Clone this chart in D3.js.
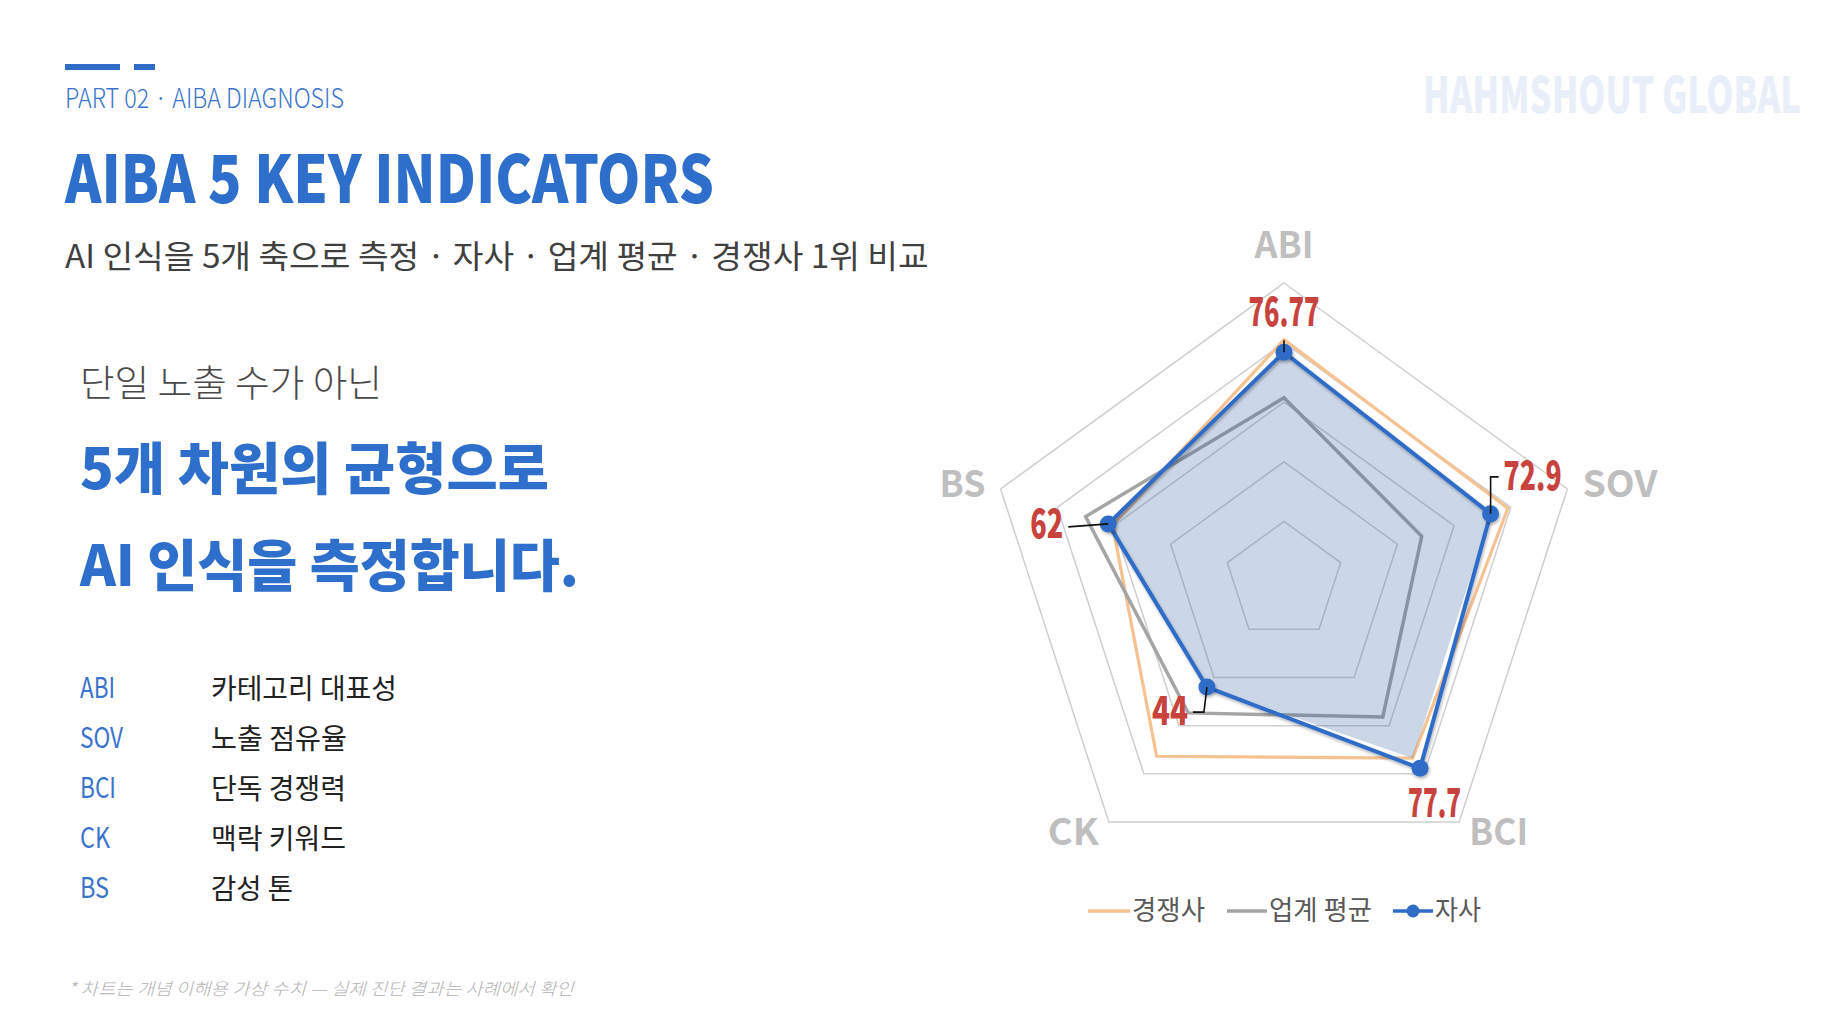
<!DOCTYPE html>
<html><head><meta charset="utf-8">
<script src="https://cdn.jsdelivr.net/npm/d3@7"></script>
<style>
html,body{margin:0;padding:0;background:#fff;}
svg{display:block;}
text{font-family:"Noto Sans CJK KR","Noto Sans",sans-serif;}
</style></head><body>
<svg id="chart" width="1830" height="1030"></svg>
<script>
// ---------- DATA ----------
const categories = ["ABI", "SOV", "BCI", "CK", "BS"];
const competitor = [81, 79, 73.5, 72.7, 60.5];      // 경쟁사
const industryAvg = [61.5, 48.6, 56.4, 54.7, 70];  // 업계 평균
const ours = [76.77, 72.9, 77.7, 44, 62];           // 자사
const oursArea = [76.77, 72.9, 73.5, 44, 62];       // 자사 shaded area
const dataLabels = ["76.77", "72.9", "77.7", "44", "62"];
const gridLevels = [20, 40, 60, 80, 100];
const seriesNames = ["경쟁사", "업계 평균", "자사"];
const indicatorCodes = ["ABI", "SOV", "BCI", "CK", "BS"];
const indicatorNames = ["카테고리 대표성", "노출 점유율", "단독 경쟁력", "맥락 키워드", "감성 톤"];

// ---------- STYLE / LAYOUT ----------
const BLUE = "#2f6cc8", ORANGE = "#f5c292", GRAY = "#a5a5a5", RED = "#c8433d";
const cx = 1284, cy = 581, R = 298;
const svg = d3.select("#chart");

const defs = svg.append("defs");
const f = defs.append("filter").attr("id", "sh").attr("x", "-50%").attr("y", "-50%").attr("width", "200%").attr("height", "200%");
f.append("feDropShadow").attr("dx", 1).attr("dy", 2).attr("stdDeviation", 1.5).attr("flood-color", "#000").attr("flood-opacity", 0.3);

// text condensed horizontally to a target width via a scale transform
function txt(sel, s, x, y, size, fill, len, opts = {}) {
  const t = sel.append("text").attr("x", 0).attr("y", 0).attr("font-size", size).attr("fill", fill)
    .attr("font-weight", opts.weight || 400).text(s);
  if (opts.anchor) t.attr("text-anchor", opts.anchor);
  if (opts.italic) t.attr("font-style", "italic");
  let sx = 1;
  if (len) { const w = t.node().getComputedTextLength(); if (w > 0) sx = len / w; }
  t.attr("transform", `translate(${x},${y}) scale(${sx},1)`);
  return t;
}

// ---------- HEADER ----------
svg.append("rect").attr("x", 65).attr("y", 64).attr("width", 55).attr("height", 6).attr("fill", BLUE);
svg.append("rect").attr("x", 134).attr("y", 64).attr("width", 21).attr("height", 6).attr("fill", BLUE);
txt(svg, "PART 02 · AIBA DIAGNOSIS", 65, 108, 27, "#3a74cc", 279, {weight: 300});
txt(svg, "AIBA 5 KEY INDICATORS", 65, 203, 66, "#2f6fcc", 649, {weight: 900});
txt(svg, "AI 인식을 5개 축으로 측정 · 자사 · 업계 평균 · 경쟁사 1위 비교", 65, 268, 32, "#404040", 864, {weight: 400});
txt(svg, "HAHMSHOUT GLOBAL", 1423, 113, 50, "#e8eff9", 378, {weight: 900});

// ---------- LEFT TEXT ----------
txt(svg, "단일 노출 수가 아닌", 80, 397, 37, "#4a4a4a", 302, {weight: 300});
txt(svg, "5개 차원의 균형으로", 80, 489, 56, "#2f6fcc", 469, {weight: 900});
txt(svg, "AI 인식을 측정합니다.", 80, 586, 56, "#2f6fcc", 499, {weight: 900});

const codeLens = [35, 43, 36, 30, 29];
const nameLens = [186, 136, 135, 135, 82];
indicatorCodes.forEach((c, i) => {
  const y = 698 + i * 50;
  txt(svg, c, 80, y, 29, "#3a74cc", codeLens[i], {weight: 400});
  txt(svg, indicatorNames[i], 211, y + 1, 28, "#222", nameLens[i], {weight: 400});
});
txt(svg, "* 차트는 개념 이해용 가상 수치 — 실제 진단 결과는 사례에서 확인", 68, 995, 17, "#b3b3b3", 506, {italic: true, weight: 300});

// ---------- RADAR ----------
const r = d3.scaleLinear().domain([0, 100]).range([0, R]);
const ang = i => i * 2 * Math.PI / categories.length;
const radial = d3.lineRadial().angle((d, i) => ang(i)).radius(d => r(d)).curve(d3.curveLinearClosed);
const g = svg.append("g").attr("transform", `translate(${cx},${cy})`);

g.selectAll(".ring").data(gridLevels).join("path")
  .attr("d", lv => radial(categories.map(() => lv)))
  .attr("fill", "none").attr("stroke", "#cfcfcf").attr("stroke-width", 1.5);

g.append("path").attr("d", radial(competitor)).attr("fill", "none").attr("stroke", ORANGE).attr("stroke-width", 3.2).attr("stroke-linejoin", "miter");
g.append("path").attr("d", radial(industryAvg)).attr("fill", "none").attr("stroke", GRAY).attr("stroke-width", 3.5).attr("stroke-linejoin", "miter");
g.append("path").attr("d", radial(oursArea)).attr("fill", "#2f5f9e").attr("fill-opacity", 0.25).attr("stroke", "none");
g.append("path").attr("d", radial(ours)).attr("fill", "none").attr("stroke", BLUE).attr("stroke-width", 4).attr("stroke-linejoin", "round").attr("filter", "url(#sh)");

const pts = ours.map((v, i) => d3.pointRadial(ang(i), r(v)));
g.selectAll(".mk").data(pts).join("circle").attr("cx", d => d[0]).attr("cy", d => d[1]).attr("r", 8.5).attr("fill", BLUE).attr("filter", "url(#sh)");

// leader lines (offsets relative to each point)
const leaders = [[[0, -12], [0, 0]], [[8, -37], [0, -37], [0, 0]], null, [[-14, 25], [-3, 25], [0, 0]], [[-40, 3], [0, 0]]];
leaders.forEach((l, i) => {
  if (!l) return;
  g.append("path").attr("d", d3.line()(l.map(o => [pts[i][0] + o[0], pts[i][1] + o[1]])))
    .attr("fill", "none").attr("stroke", "#111").attr("stroke-width", 1.6);
});

// data labels
const lblPos = [{a: "middle", dx: 0, dy: -26, len: 71}, {a: "start", dx: 13, dy: -24, len: 58},
  {a: "start", dx: -12, dy: 49, len: 53}, {a: "end", dx: -19, dy: 38, len: 36}, {a: "end", dx: -45, dy: 14, len: 33}];
dataLabels.forEach((s, i) => {
  const p = lblPos[i];
  txt(g, s, pts[i][0] + p.dx, pts[i][1] + p.dy, 40, RED, p.len, {weight: 900, anchor: p.a});
});

// axis labels
const axPos = [{a: "middle", dx: 0, dy: -25, len: 59}, {a: "start", dx: 15, dy: 8, len: 75},
  {a: "start", dx: 10, dy: 23, len: 59}, {a: "end", dx: -10, dy: 23, len: 51}, {a: "end", dx: -15, dy: 8, len: 46}];
categories.forEach((c, i) => {
  const v = d3.pointRadial(ang(i), r(100));
  const p = axPos[i];
  txt(g, c, v[0] + p.dx, v[1] + p.dy, 37, "#bfbfbf", p.len, {weight: 700, anchor: p.a});
});

// ---------- LEGEND ----------
const legX = [1088, 1227, 1393], legLine = [42, 40, 40], legTextLen = [73, 103, 46];
const legColors = [ORANGE, GRAY, BLUE];
seriesNames.forEach((s, i) => {
  const x = legX[i];
  svg.append("line").attr("x1", x).attr("x2", x + legLine[i]).attr("y1", 911).attr("y2", 911)
    .attr("stroke", legColors[i]).attr("stroke-width", 3.5);
  if (i === 2) svg.append("circle").attr("cx", x + legLine[i] / 2).attr("cy", 911).attr("r", 6.5).attr("fill", BLUE);
  txt(svg, s, x + legLine[i] + 2, 920, 27, "#595959", legTextLen[i], {weight: 400});
});
</script>
</body></html>
